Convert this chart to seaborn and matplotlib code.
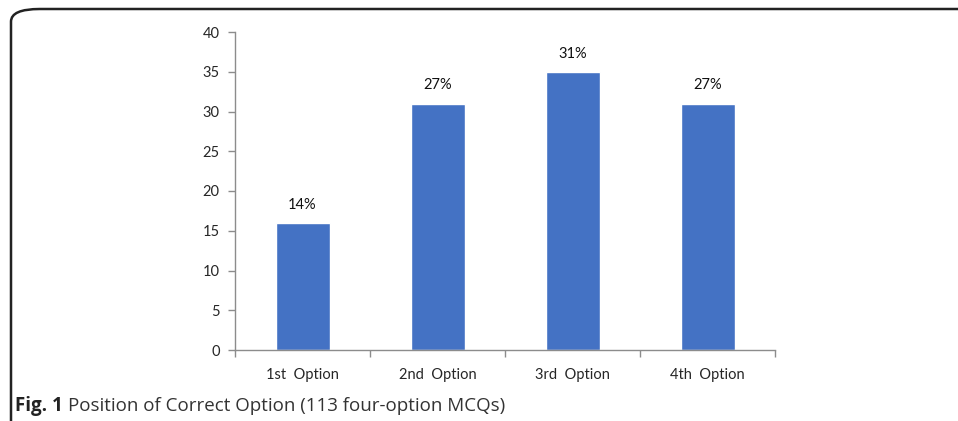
import matplotlib
matplotlib.use("Agg")
import matplotlib.pyplot as plt
from matplotlib.patches import FancyBboxPatch
import seaborn as sns
import pandas as pd

# data
options = ["1st  Option", "2nd  Option", "3rd  Option", "4th  Option"]
counts = [16, 31, 35, 31]
pct_labels = ["14%", "27%", "31%", "27%"]

df = pd.DataFrame({"option": options, "count": counts})

sns.set_style("white")
plt.rcParams["font.family"] = ["Lato", "DejaVu Sans"]

fig = plt.figure(figsize=(9.58, 4.21), dpi=100)
ax = fig.add_axes([235 / 958, 1 - 350 / 421, 540 / 958, 318 / 421])

sns.barplot(data=df, x="option", y="count", color="#4472C4", width=0.4,
            saturation=1, ax=ax)

for i, (c, lab) in enumerate(zip(counts, pct_labels)):
    ax.annotate(lab, (i, c), xytext=(0, 8), textcoords="offset points",
                ha="center", va="bottom", fontsize=10.5, color="#111111")

ax.set_xlim(-0.5, 3.5)
ax.set_ylim(0, 40)
ax.set_yticks(range(0, 41, 5))
ax.set_xlabel("")
ax.set_ylabel("")

for s in ["top", "right"]:
    ax.spines[s].set_visible(False)
for s in ["left", "bottom"]:
    ax.spines[s].set_color("#8c8c8c")
    ax.spines[s].set_linewidth(1)

ax.tick_params(axis="y", length=5, width=1, color="#8c8c8c", labelsize=10.5,
               pad=6, left=True)
ax.tick_params(axis="x", which="major", length=0, labelsize=10.5, pad=13)
ax.set_xticks([-0.5, 0.5, 1.5, 2.5, 3.5], minor=True)
ax.tick_params(axis="x", which="minor", length=5, width=1, color="#8c8c8c",
               bottom=True)

# frame around the figure panel
frame = FancyBboxPatch((11 / 958, -0.1), 1.2, 1 - 9 / 421 + 0.1,
                       boxstyle="round,pad=0,rounding_size=0.03",
                       transform=fig.transFigure, fill=False,
                       edgecolor="#222222", linewidth=1.8, clip_on=False)
fig.patches.append(frame)

# caption
cap = fig.text(15 / 958, 1 - 406 / 421, "Fig. 1", fontsize=13.5, fontweight="bold",
               family=["Open Sans", "DejaVu Sans"], va="center", color="#222222")
ax.annotate("Position of Correct Option (113 four-option MCQs)",
            xy=(1, 0.5), xycoords=cap, xytext=(4, 0), textcoords="offset points",
            fontsize=13.5, family=["Open Sans", "DejaVu Sans"], va="center",
            ha="left", color="#333333", annotation_clip=False)

fig.savefig("out.png", dpi=100)
